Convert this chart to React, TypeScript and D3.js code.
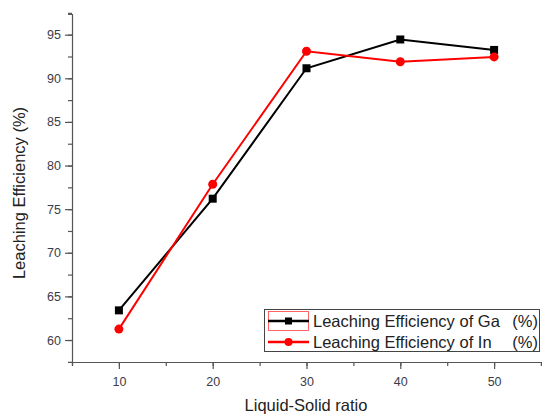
// Leaching efficiency vs liquid-solid ratio - D3 line chart with markers

import { useEffect, useRef } from "react";
import * as d3 from "d3";

const ratios = [10, 20, 30, 40, 50];
const gaValues = [63.4, 76.2, 91.15, 94.45, 93.25];
const inValues = [61.25, 77.85, 93.1, 91.9, 92.45];
const seriesNames = ["Leaching Efficiency of Ga", "Leaching Efficiency of In"];
const xTicks = [10, 20, 30, 40, 50];
const yTicks = [60, 65, 70, 75, 80, 85, 90, 95];

export default function App() {
  const svgRef = useRef<SVGSVGElement>(null);

  useEffect(() => {
    if (!svgRef.current) return;
    const svg = d3.select(svgRef.current);
    svg.selectAll("*").remove();

    const font = "'Liberation Sans', Arial, sans-serif";
    const axisColor = "#555";

    const x = d3.scaleLinear().domain([5, 55]).range([72, 541]);
    const y = d3.scaleLinear().domain([57.48, 97.37]).range([362, 14]);

    // X axis (minor ticks, then major ticks with labels)
    const gx = svg.append("g").attr("transform", `translate(0, ${y.range()[0]})`);
    gx.call(
      d3.axisBottom(x).tickValues(d3.range(5, 56, 5)).tickSize(4).tickFormat(() => "")
    );
    gx.call((g) => g.selectAll(".tick text").remove());
    const gxMajor = svg.append("g").attr("transform", `translate(0, ${y.range()[0]})`);
    gxMajor.call(d3.axisBottom(x).tickValues(xTicks).tickSize(7).tickPadding(8));
    gxMajor.select(".domain").remove();

    // Y axis
    const gy = svg.append("g").attr("transform", `translate(${x.range()[0]}, 0)`);
    gy.call(
      d3.axisLeft(y).tickValues(d3.range(57.5, 97.6, 2.5)).tickSize(4).tickFormat(() => "")
    );
    gy.call((g) => g.selectAll(".tick text").remove());
    const gyMajor = svg.append("g").attr("transform", `translate(${x.range()[0]}, 0)`);
    gyMajor.call(d3.axisLeft(y).tickValues(yTicks).tickSize(7).tickPadding(4));
    gyMajor.select(".domain").remove();

    svg.selectAll(".domain, .tick line").attr("stroke", axisColor).attr("stroke-width", 1.2);
    svg
      .selectAll(".tick text")
      .attr("fill", "#3c3c48")
      .style("font-family", font)
      .style("font-size", "12.5px");

    // Axis titles
    svg
      .append("text")
      .attr("x", 306)
      .attr("y", 411)
      .attr("text-anchor", "middle")
      .attr("fill", "#222")
      .style("font-family", font)
      .style("font-size", "16.5px")
      .text("Liquid-Solid ratio");

    svg
      .append("text")
      .attr("transform", `translate(25, 193) rotate(-90)`)
      .attr("text-anchor", "middle")
      .attr("fill", "#222")
      .style("font-family", font)
      .style("font-size", "16.5px")
      .text("Leaching Efficiency (%)");

    const line = d3
      .line<number>()
      .x((_, i) => x(ratios[i]))
      .y((d) => y(d));

    // Ga series (black squares)
    svg
      .append("path")
      .datum(gaValues)
      .attr("d", line)
      .attr("fill", "none")
      .attr("stroke", "#000")
      .attr("stroke-width", 2);
    svg
      .selectAll(".ga-pt")
      .data(gaValues)
      .enter()
      .append("rect")
      .attr("x", (_, i) => x(ratios[i]) - 4)
      .attr("y", (d) => y(d) - 4)
      .attr("width", 8)
      .attr("height", 8)
      .attr("fill", "#000");

    // In series (red circles)
    svg
      .append("path")
      .datum(inValues)
      .attr("d", line)
      .attr("fill", "none")
      .attr("stroke", "#ff0000")
      .attr("stroke-width", 2);
    svg
      .selectAll(".in-pt")
      .data(inValues)
      .enter()
      .append("circle")
      .attr("cx", (_, i) => x(ratios[i]))
      .attr("cy", (d) => y(d))
      .attr("r", 4.5)
      .attr("fill", "#ff0000");

    // Legend
    const legend = svg.append("g");
    legend
      .append("rect")
      .attr("x", 264.5)
      .attr("y", 309.5)
      .attr("width", 275)
      .attr("height", 42)
      .attr("fill", "#fff")
      .attr("stroke", "#444")
      .attr("stroke-width", 1);
    legend
      .append("rect")
      .attr("x", 268.5)
      .attr("y", 311.5)
      .attr("width", 40)
      .attr("height", 19)
      .attr("fill", "none")
      .attr("stroke", "#ff4040")
      .attr("stroke-width", 0.8);

    const rows = [
      { name: seriesNames[0], color: "#000", square: true, cy: 321 },
      { name: seriesNames[1], color: "#ff0000", square: false, cy: 342 },
    ];
    rows.forEach((r) => {
      legend
        .append("line")
        .attr("x1", 268)
        .attr("x2", 309)
        .attr("y1", r.cy)
        .attr("y2", r.cy)
        .attr("stroke", r.color)
        .attr("stroke-width", 2.5);
      if (r.square) {
        legend
          .append("rect")
          .attr("x", 285)
          .attr("y", r.cy - 3.5)
          .attr("width", 7)
          .attr("height", 7)
          .attr("fill", r.color);
      } else {
        legend
          .append("circle")
          .attr("cx", 288.5)
          .attr("cy", r.cy)
          .attr("r", 4)
          .attr("fill", r.color);
      }
      legend
        .append("text")
        .attr("x", 313)
        .attr("y", r.cy + 6)
        .attr("fill", "#222")
        .style("font-family", font)
        .style("font-size", "16.5px")
        .text(r.name);
      legend
        .append("text")
        .attr("x", 538)
        .attr("y", r.cy + 6)
        .attr("text-anchor", "end")
        .attr("fill", "#222")
        .style("font-family", font)
        .style("font-size", "16.5px")
        .text("(%)");
    });
  }, []);

  return (
    <svg
      ref={svgRef}
      width={542}
      height={414}
      style={{ position: "absolute", left: 0, top: 0, background: "#fff" }}
    />
  );
}
